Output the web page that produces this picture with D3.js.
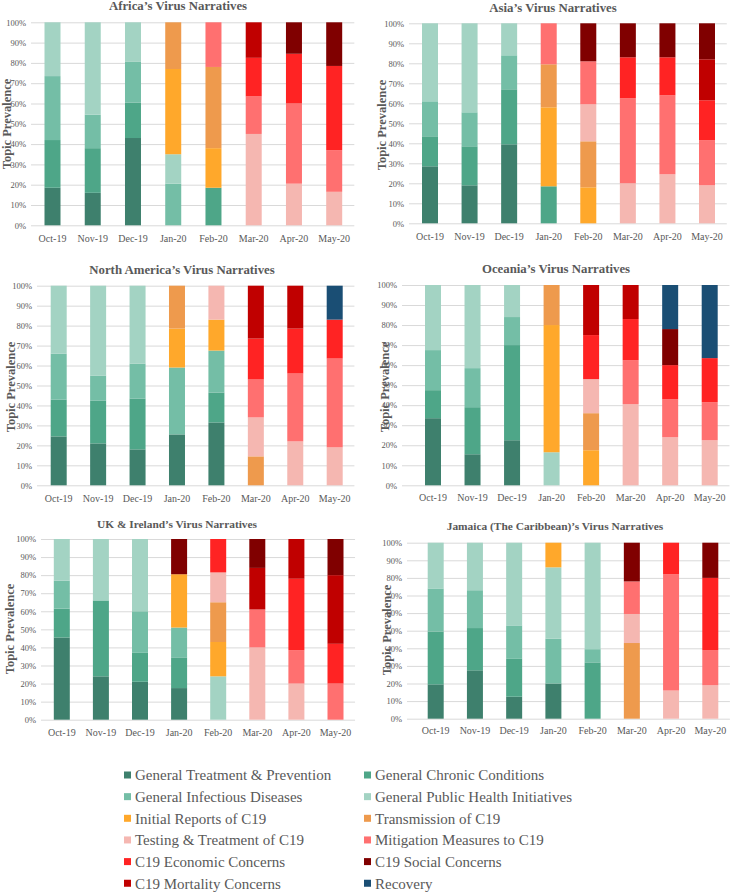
<!DOCTYPE html>
<html>
<head>
<meta charset="utf-8">
<script src="https://cdn.jsdelivr.net/npm/d3@7"></script>
<style>
  body { margin: 0; background: #fff; }
  svg text { font-family: "Liberation Serif", "Times New Roman", serif; fill: #595959; }
</style>
</head>
<body>
<div id="chart"></div>
<script>
var width = 730, height = 892;
var SERIF = "'Liberation Serif', 'Times New Roman', serif";

var months = ["Oct-19", "Nov-19", "Dec-19", "Jan-20", "Feb-20", "Mar-20", "Apr-20", "May-20"];
var yTicks = [0, 10, 20, 30, 40, 50, 60, 70, 80, 90, 100];

var topics = [
  "General Treatment & Prevention", "General Chronic Conditions",
  "General Infectious Diseases", "General Public Health Initiatives",
  "Initial Reports of C19", "Transmission of C19",
  "Testing & Treatment of C19", "Mitigation Measures to C19",
  "C19 Economic Concerns", "C19 Social Concerns",
  "C19 Mortality Concerns", "Recovery"
];
// stacking order, bottom to top (index into topics)
var stackOrder = [0, 1, 2, 3, 4, 5, 6, 7, 8, 10, 9, 11];
var colors = ["#3e806d", "#4ea688", "#74bea6", "#a3d3c3", "#ffa82b", "#ee9a4d",
              "#f5b7b1", "#ff7070", "#ff2323", "#800000", "#c00000", "#1a4e74"];

// one row per topic (same order as topics), one value per month, in %
var africa = [
  [18.5, 16, 43, 0, 0, 0, 0, 0],
  [23.5, 22, 17.5, 0, 18.5, 0, 0, 0],
  [31.5, 16.5, 20, 20.5, 0, 0, 0, 0],
  [26.5, 45.5, 19.5, 14.5, 0, 0, 0, 0],
  [0, 0, 0, 42, 19.5, 0, 0, 0],
  [0, 0, 0, 23, 40, 0, 0, 0],
  [0, 0, 0, 0, 0, 45, 20.5, 16.5],
  [0, 0, 0, 0, 22, 18.5, 39.5, 20.5],
  [0, 0, 0, 0, 0, 19, 24.5, 41.5],
  [0, 0, 0, 0, 0, 0, 15.5, 21.5],
  [0, 0, 0, 0, 0, 17.5, 0, 0],
  [0, 0, 0, 0, 0, 0, 0, 0]
];
var asia = [
  [28.5, 19, 39.5, 0, 0, 0, 0, 0],
  [15, 19.5, 27.5, 18.5, 0, 0, 0, 0],
  [17.5, 17, 17, 0, 0, 0, 0, 0],
  [39, 44.5, 16, 0, 0, 0, 0, 0],
  [0, 0, 0, 39.5, 18, 0, 0, 0],
  [0, 0, 0, 21.5, 23, 0, 0, 0],
  [0, 0, 0, 0, 18.5, 20, 24.5, 19],
  [0, 0, 0, 20.5, 21.5, 42.5, 39.5, 22.5],
  [0, 0, 0, 0, 0, 20.5, 19, 20],
  [0, 0, 0, 0, 19, 17, 17, 18],
  [0, 0, 0, 0, 0, 0, 0, 20.5],
  [0, 0, 0, 0, 0, 0, 0, 0]
];
var northAmerica = [
  [24.5, 21, 18, 25.5, 31.5, 0, 0, 0],
  [18.5, 21.5, 25.5, 0, 15, 0, 0, 0],
  [23, 12.5, 17.5, 33.5, 21, 0, 0, 0],
  [34, 45, 39, 0, 0, 0, 0, 0],
  [0, 0, 0, 19.5, 15.5, 0, 0, 0],
  [0, 0, 0, 21.5, 0, 14.5, 0, 0],
  [0, 0, 0, 0, 17, 19.5, 22, 19],
  [0, 0, 0, 0, 0, 19, 34, 44.5],
  [0, 0, 0, 0, 0, 20.5, 22.5, 19.5],
  [0, 0, 0, 0, 0, 0, 0, 0],
  [0, 0, 0, 0, 0, 26.5, 21.5, 0],
  [0, 0, 0, 0, 0, 0, 0, 17]
];
var oceania = [
  [33.5, 15.5, 22.5, 0, 0, 0, 0, 0],
  [14, 23.5, 47.5, 0, 0, 0, 0, 0],
  [20, 19.5, 14, 0, 0, 0, 0, 0],
  [32.5, 41.5, 16, 16.5, 0, 0, 0, 0],
  [0, 0, 0, 63.5, 17.5, 0, 0, 0],
  [0, 0, 0, 20, 18.5, 0, 0, 0],
  [0, 0, 0, 0, 17, 40.5, 24, 22.5],
  [0, 0, 0, 0, 0, 22, 19, 19],
  [0, 0, 0, 0, 22, 20.5, 17, 22],
  [0, 0, 0, 0, 0, 0, 18, 0],
  [0, 0, 0, 0, 25, 17, 0, 0],
  [0, 0, 0, 0, 0, 0, 22, 36.5]
];
var ukIreland = [
  [45.5, 24, 21, 17.5, 0, 0, 0, 0],
  [16, 42, 16, 17, 0, 0, 0, 0],
  [15.5, 0, 23, 16.5, 0, 0, 0, 0],
  [23, 34, 40, 0, 24, 0, 0, 0],
  [0, 0, 0, 29.5, 19, 0, 0, 0],
  [0, 0, 0, 0, 22, 0, 0, 0],
  [0, 0, 0, 0, 16.5, 40, 20, 0],
  [0, 0, 0, 0, 0, 21, 18.5, 20],
  [0, 0, 0, 0, 18.5, 0, 39.5, 22],
  [0, 0, 0, 19.5, 0, 16, 0, 20],
  [0, 0, 0, 0, 0, 23, 22, 38],
  [0, 0, 0, 0, 0, 0, 0, 0]
];
var jamaica = [
  [19.5, 27.5, 12.5, 20, 0, 0, 0, 0],
  [30, 24, 21.5, 0, 32, 0, 0, 0],
  [24.5, 21.5, 19, 25.5, 7.5, 0, 0, 0],
  [26, 27, 47, 40.5, 60.5, 0, 0, 0],
  [0, 0, 0, 14, 0, 0, 0, 0],
  [0, 0, 0, 0, 0, 43, 0, 0],
  [0, 0, 0, 0, 0, 16.5, 16, 19],
  [0, 0, 0, 0, 0, 18.5, 66, 20],
  [0, 0, 0, 0, 0, 0, 18, 41],
  [0, 0, 0, 0, 0, 22, 0, 20],
  [0, 0, 0, 0, 0, 0, 0, 0],
  [0, 0, 0, 0, 0, 0, 0, 0]
];

// layout of each small chart
var panels = [
  {title: "Africa\u2019s Virus Narratives", data: africa, tx: 178, ty: 10, ts: 12.8,
   labelRight: 26, c0: 52.5, c7: 334.2, top: 22.3, bottom: 225.3, xly: 238, atx: 7, aty: 124},
  {title: "Asia\u2019s Virus Narratives", data: asia, tx: 553, ty: 11.5, ts: 12.8,
   labelRight: 404, c0: 430, c7: 707, top: 23.3, bottom: 223.3, xly: 236, atx: 382, aty: 125},
  {title: "North America\u2019s Virus Narratives", data: northAmerica, tx: 182, ty: 274, ts: 12.8,
   labelRight: 32, c0: 58.7, c7: 334.7, top: 285.7, bottom: 485.3, xly: 498, atx: 11, aty: 387},
  {title: "Oceania\u2019s Virus Narratives", data: oceania, tx: 556, ty: 273, ts: 12.8,
   labelRight: 397, c0: 433, c7: 709.7, top: 285, bottom: 485.3, xly: 497, atx: 385, aty: 387},
  {title: "UK & Ireland\u2019s Virus Narratives", data: ukIreland, tx: 177, ty: 528, ts: 11.4,
   labelRight: 36, c0: 61.8, c7: 335.5, top: 539, bottom: 719.7, xly: 732, atx: 9.5, aty: 629},
  {title: "Jamaica (The Caribbean)\u2019s Virus Narratives", data: jamaica, tx: 555, ty: 530, ts: 11.4,
   labelRight: 402, c0: 435.7, c7: 710.3, top: 542.7, bottom: 718.7, xly: 730, atx: 387, aty: 630}
];

var svg = d3.select("#chart").append("svg")
  .attr("width", width)
  .attr("height", height)
  .attr("font-family", SERIF);

function drawPanel(p) {
  var step = (p.c7 - p.c0) / (months.length - 1);
  var pad = 1 - 16 / step;

  var x = d3.scaleBand()
    .domain(months)
    .range([p.c0 - step / 2, p.c7 + step / 2])
    .paddingInner(pad)
    .paddingOuter(pad / 2);

  var y = d3.scaleLinear()
    .domain([0, 100])
    .range([p.bottom, p.top]);

  var g = svg.append("g");
  var gridStart = p.labelRight + 5;
  var gridEnd = p.c7 + step / 2;

  // gridlines + tick labels
  var yAxis = g.append("g")
    .attr("transform", "translate(" + gridStart + ",0)")
    .call(d3.axisLeft(y)
      .tickValues(yTicks)
      .tickFormat(function(d) { return d + "%"; })
      .tickSize(-(gridEnd - gridStart))
      .tickPadding(5))
    .attr("font-family", SERIF)
    .attr("font-size", 8.5);
  yAxis.select(".domain").remove();
  yAxis.selectAll("line").attr("stroke", "#d9d9d9");
  yAxis.selectAll("text").attr("fill", "#595959");

  // table for stacking
  var table = months.map(function(m, i) {
    var row = {month: m};
    topics.forEach(function(t, k) { row[k] = p.data[k][i]; });
    return row;
  });
  var series = d3.stack().keys(stackOrder)(table);

  g.append("g").selectAll("g")
    .data(series)
    .enter()
    .append("g")
    .attr("fill", function(s) { return colors[s.key]; })
    .selectAll("rect")
    .data(function(s) { return s.filter(function(d) { return d[1] - d[0] > 0; }); })
    .enter()
    .append("rect")
    .attr("x", function(d) { return x(d.data.month); })
    .attr("width", x.bandwidth())
    .attr("y", function(d) { return y(d[1]); })
    .attr("height", function(d) { return y(d[0]) - y(d[1]); });

  // month labels
  var xAxis = g.append("g")
    .attr("transform", "translate(0," + p.xly + ")")
    .call(d3.axisBottom(x).tickSize(0).tickPadding(0))
    .attr("font-family", SERIF)
    .attr("font-size", 10);
  xAxis.select(".domain").remove();
  xAxis.selectAll("text")
    .attr("dy", "0.35em")
    .attr("fill", "#595959");

  g.append("text")
    .attr("x", p.tx)
    .attr("y", p.ty)
    .attr("text-anchor", "middle")
    .style("font-size", p.ts + "px")
    .style("font-weight", "bold")
    .text(p.title);

  g.append("text")
    .attr("transform", "translate(" + p.atx + "," + p.aty + ") rotate(-90)")
    .attr("text-anchor", "middle")
    .attr("dy", "0.35em")
    .style("font-size", "12.5px")
    .style("font-weight", "bold")
    .text("Topic Prevalence");
}

panels.forEach(drawPanel);

// legend, two columns
var legend = svg.append("g");
var legendRow = legend.selectAll("g")
  .data(topics)
  .enter()
  .append("g")
  .attr("transform", function(d, i) {
    var col = i % 2, row = Math.floor(i / 2);
    return "translate(" + (col ? 364 : 124) + "," + (775 + row * 21.65) + ")";
  });

legendRow.append("rect")
  .attr("x", 0)
  .attr("y", -3.5)
  .attr("width", 7)
  .attr("height", 7)
  .attr("fill", function(d, i) { return colors[i]; });

legendRow.append("text")
  .attr("x", 11)
  .attr("dy", "0.35em")
  .style("font-size", "15px")
  .text(function(d) { return d; });
</script>
</body>
</html>
